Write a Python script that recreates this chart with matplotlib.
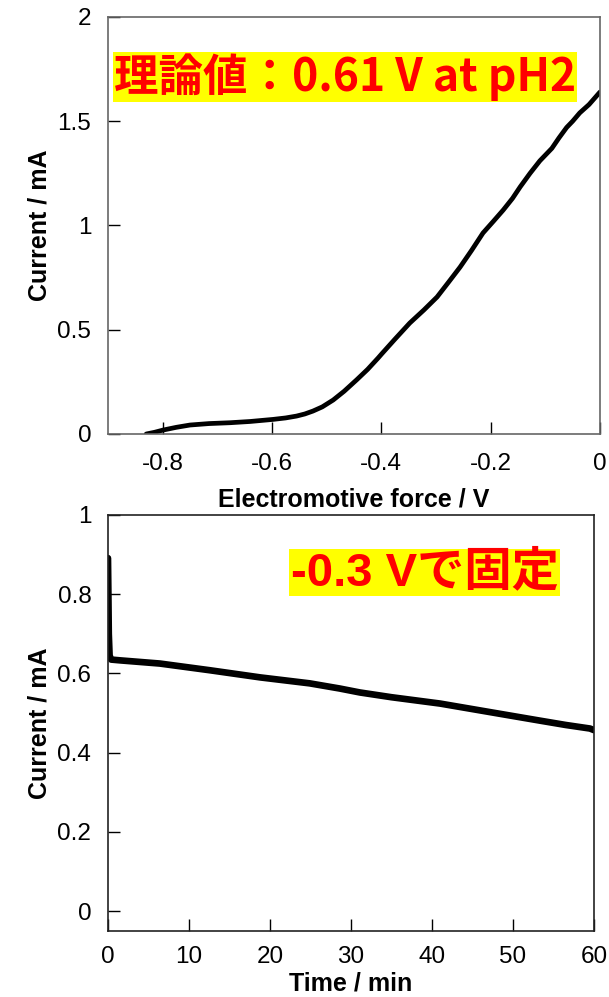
import matplotlib
matplotlib.use('Agg')
import matplotlib.pyplot as plt
import numpy as np

plt.rcParams['font.family'] = ['Liberation Sans', 'Noto Sans CJK JP']
plt.rcParams['axes.unicode_minus'] = False

# LSV: electromotive force (V) vs current (mA)
emf = [-0.83, -0.815, -0.799, -0.775, -0.75, -0.715, -0.677, -0.64, -0.598,
       -0.575, -0.555, -0.54, -0.525, -0.508, -0.488, -0.468, -0.445,
       -0.425, -0.406, -0.399, -0.375, -0.348, -0.322, -0.298, -0.277,
       -0.256, -0.235, -0.214, -0.195, -0.177, -0.16, -0.146, -0.128,
       -0.11, -0.099, -0.088, -0.075, -0.061, -0.05, -0.037, -0.02, 0.0]
current_lsv = [0.0, 0.008, 0.019, 0.032, 0.043, 0.05, 0.054, 0.06, 0.07,
               0.077, 0.086, 0.096, 0.11, 0.13, 0.163, 0.205, 0.26,
               0.31, 0.364, 0.385, 0.455, 0.532, 0.595, 0.657, 0.728,
               0.80, 0.88, 0.964, 1.02, 1.074, 1.13, 1.185, 1.25,
               1.31, 1.34, 1.37, 1.42, 1.47, 1.50, 1.54, 1.58, 1.64]

# chronoamperometry at -0.3 V: time (min) vs current (mA)
time_min = [0.0, 0.05, 0.1, 0.2, 0.4, 1.5, 6.4, 12.6, 18.8, 24.9, 28.6,
            31.1, 35.0, 41.0, 47.0, 53.3, 56.5, 59.5, 60.0]
current_ca = [0.891, 0.80, 0.70, 0.645, 0.635, 0.633, 0.625, 0.608, 0.59,
              0.575, 0.562, 0.552, 0.54, 0.524, 0.503, 0.481, 0.47, 0.461,
              0.457]

lsv_xticks = [-0.8, -0.6, -0.4, -0.2, 0]
lsv_yticks = [0, 0.5, 1, 1.5, 2]
ca_xticks = [0, 10, 20, 30, 40, 50, 60]
ca_yticks = [0, 0.2, 0.4, 0.6, 0.8, 1]

fig = plt.figure(figsize=(6.09, 9.97), dpi=100)
ax1 = fig.add_axes([0.1773, 0.5647, 0.8079, 0.4183])
ax2 = fig.add_axes([0.1773, 0.0662, 0.798, 0.4173])

ax1.plot(emf, current_lsv, color='black', lw=3.4, solid_capstyle='round')
ax1.set_xlim(-0.9, 0)
ax1.set_ylim(0, 2)
ax1.set_xticks(lsv_xticks)
ax1.set_xticklabels(['%g' % v for v in lsv_xticks])
ax1.set_yticks(lsv_yticks)
ax1.set_yticklabels(['%g' % v for v in lsv_yticks])
ax1.set_xlabel('Electromotive force / V', fontsize=18, fontweight='bold', labelpad=9)
ax1.set_ylabel('Current / mA', fontsize=18, fontweight='bold', labelpad=4)
for s in ax1.spines.values():
    s.set_color('#666666')
    s.set_linewidth(1.2)

ax2.plot(time_min, current_ca, color='black', lw=4.8, solid_capstyle='round')
ax2.set_xlim(0, 60)
ax2.set_ylim(-0.05, 1)
ax2.set_xticks(ca_xticks)
ax2.set_xticklabels(['%g' % v for v in ca_xticks])
ax2.set_yticks(ca_yticks)
ax2.set_yticklabels(['%g' % v for v in ca_yticks])
ax2.set_xlabel('Time / min', fontsize=18, fontweight='bold', labelpad=2)
ax2.set_ylabel('Current / mA', fontsize=18, fontweight='bold', labelpad=4)
for s in ax2.spines.values():
    s.set_color('#222222')
    s.set_linewidth(1.2)

for ax in (ax1, ax2):
    ax.tick_params(direction='in', length=8.6, width=1, labelsize=17.5,
                   top=False, right=False, colors='black')
    ax.tick_params(axis='y', pad=12)
ax1.tick_params(axis='x', pad=14)
ax2.tick_params(axis='x', pad=11)

ax1.text(0.012, 0.856, '理論値：0.61 V at pH2', transform=ax1.transAxes,
         fontsize=32, fontweight='bold', color='red', va='center', ha='left',
         family=['Noto Sans CJK JP'],
         bbox=dict(facecolor='yellow', edgecolor='none', pad=1))

ax2.text(0.376, 0.862, '-0.3 Vで固定', transform=ax2.transAxes,
         fontsize=34, fontweight='bold', color='red', va='center', ha='left',
         bbox=dict(facecolor='yellow', edgecolor='none', pad=1))

fig.savefig('out.png', dpi=100)
